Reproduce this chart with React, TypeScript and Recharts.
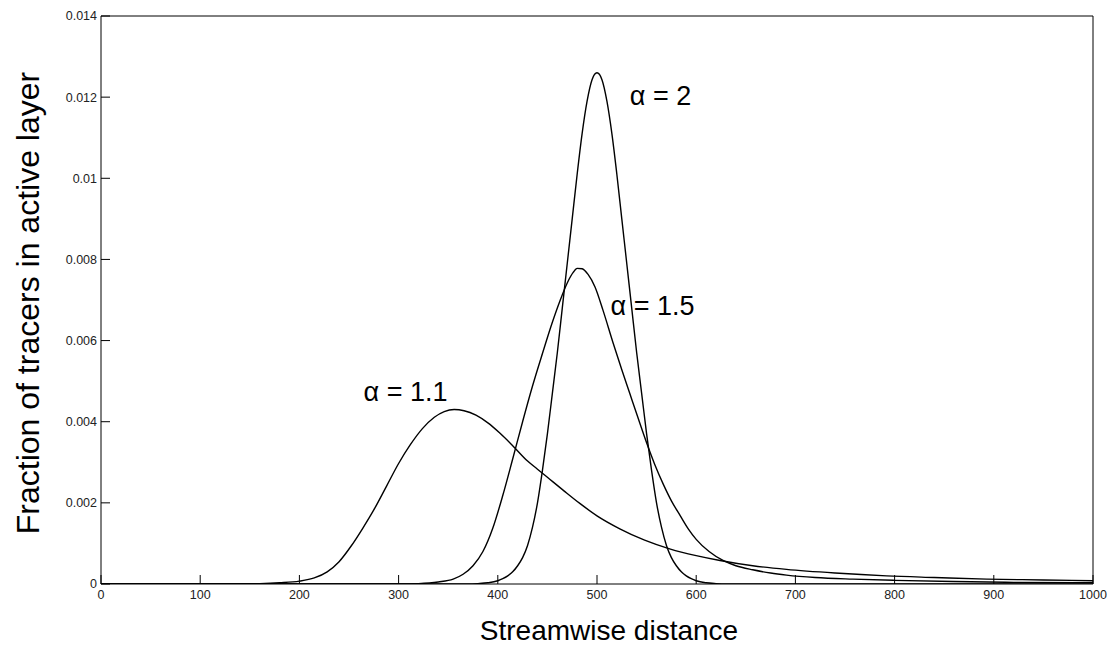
import React from 'react';
import { LineChart, Line, XAxis, YAxis, ReferenceDot, Label } from 'recharts';

const xTicks = [0, 100, 200, 300, 400, 500, 600, 700, 800, 900, 1000];
const yTicks = [0, 0.002, 0.004, 0.006, 0.008, 0.01, 0.012, 0.014];
const yTickLabels = ['0', '0.002', '0.004', '0.006', '0.008', '0.01', '0.012', '0.014'];

// alpha = 1.1
const a11X = [0, 100, 140, 160, 180, 200, 215, 228, 240, 252, 264, 276, 288, 300, 312, 324, 336, 346, 356, 366, 378, 390, 402, 415, 430, 440, 450, 467, 483, 500, 523, 548, 574, 600, 624, 657, 691, 740, 792, 840, 893, 950, 1000];
const a11Y = [0, 0, 0.000004, 0.00001, 0.00003, 0.00007, 0.00015, 0.0003, 0.00055, 0.00093, 0.00138, 0.00187, 0.00242, 0.00297, 0.00344, 0.00383, 0.00411, 0.00425, 0.0043, 0.00427, 0.00416, 0.00397, 0.00372, 0.00341, 0.00303, 0.00283, 0.00263, 0.00229, 0.00198, 0.00168, 0.00136, 0.00108, 0.00086, 0.0007, 0.00058, 0.00045, 0.00036, 0.00027, 0.0002, 0.00016, 0.00012, 0.0001, 0.00008];

// alpha = 1.5
const a15X = [0, 300, 320, 340, 355, 365, 375, 385, 395, 405, 415, 425, 435, 445, 455, 463, 470, 476, 480, 485, 491, 498, 506, 516, 525, 533, 541, 550, 558, 567, 575, 584, 592, 600, 613, 627, 640, 657, 675, 691, 720, 758, 800, 859, 920, 1000];
const a15Y = [0, 0, 0.00001, 0.00005, 0.00012, 0.00024, 0.00045, 0.0008, 0.00138, 0.00218, 0.00308, 0.004, 0.00488, 0.00568, 0.00645, 0.007, 0.00742, 0.00768, 0.00778, 0.00777, 0.00763, 0.00732, 0.00675, 0.00596, 0.00528, 0.0047, 0.00412, 0.00348, 0.00296, 0.00245, 0.00205, 0.00168, 0.00136, 0.0011, 0.0008, 0.00058, 0.00045, 0.00035, 0.00027, 0.00022, 0.00016, 0.00012, 0.00009, 0.00006, 0.00004, 0.00003];

// alpha = 2
const a2X = [0, 370, 380, 390, 400, 405, 410, 415, 420, 425, 430, 435, 440, 445, 450, 455, 460, 465, 470, 475, 480, 485, 490, 495, 500, 505, 510, 515, 520, 525, 530, 535, 540, 545, 550, 555, 560, 565, 570, 575, 580, 585, 590, 595, 600, 610, 620, 630, 1000];
const a2Y = [0, 0, 0.00001, 0.00003, 0.00008, 0.00013, 0.0002, 0.0003, 0.00045, 0.00065, 0.00095, 0.0014, 0.002, 0.0028, 0.0037, 0.0047, 0.0057, 0.0068, 0.0079, 0.009, 0.0101, 0.0111, 0.0119, 0.01243, 0.0126, 0.01243, 0.0119, 0.0111, 0.0101, 0.009, 0.0079, 0.0068, 0.0057, 0.0047, 0.0037, 0.0028, 0.002, 0.0014, 0.00095, 0.00065, 0.00045, 0.0003, 0.0002, 0.00013, 0.00008, 0.00003, 0.00001, 0, 0];

const toData = (xs: number[], ys: number[]) => xs.map((x, i) => ({ x, y: ys[i] }));
const a11 = toData(a11X, a11Y);
const a15 = toData(a15X, a15Y);
const a2 = toData(a2X, a2Y);

const FONT = '"Liberation Sans", Arial, Helvetica, sans-serif';

export default function App() {
  return (
    <div style={{ position: 'absolute', left: 0, top: 0, width: 1107, height: 646, background: '#fff', fontFamily: FONT }}>
      <LineChart width={1107} height={646} margin={{ top: 15, right: 13, bottom: 0, left: 0 }}>
        <XAxis
          xAxisId="bottom"
          dataKey="x"
          type="number"
          domain={[0, 1000]}
          ticks={xTicks}
          allowDataOverflow
          height={62}
          tickSize={-9}
          tickMargin={15}
          stroke="#000"
          tick={{ fill: '#222', fontSize: 12.5 }}
          interval={0}
        >
          <Label
            content={() => (
              <text x={609} y={640} textAnchor="middle" fontSize={28} fill="#000">Streamwise distance</text>
            )}
          />
        </XAxis>
        <XAxis
          xAxisId="top"
          orientation="top"
          dataKey="x"
          type="number"
          domain={[0, 1000]}
          ticks={xTicks}
          allowDataOverflow
          height={1}
          tickSize={-9}
          stroke="#000"
          tick={false}
          interval={0}
        />
        <YAxis
          yAxisId="left"
          type="number"
          domain={[0, 0.014]}
          ticks={yTicks}
          allowDataOverflow
          width={101}
          tickSize={-9}
          tickMargin={13}
          stroke="#000"
          tick={{ fill: '#222', fontSize: 12.5 }}
          tickFormatter={(v: number) => yTickLabels[yTicks.indexOf(v)] ?? String(v)}
          interval={0}
        >
          <Label
            content={() => (
              <text x={39} y={303} transform="rotate(-90 39 303)" textAnchor="middle" fontSize={32} fill="#000">Fraction of tracers in active layer</text>
            )}
          />
        </YAxis>
        <YAxis
          yAxisId="right"
          orientation="right"
          type="number"
          domain={[0, 0.014]}
          ticks={yTicks}
          allowDataOverflow
          width={1}
          tickSize={-9}
          stroke="#000"
          tick={false}
          interval={0}
        />
        <Line xAxisId="top" yAxisId="right" data={a11} dataKey="y" type="monotone" stroke="none" dot={false} isAnimationActive={false} legendType="none" />
        <Line xAxisId="bottom" yAxisId="left" data={a11} dataKey="y" type="monotone" stroke="#000" strokeWidth={1.4} dot={false} isAnimationActive={false} />
        <Line xAxisId="bottom" yAxisId="left" data={a15} dataKey="y" type="monotone" stroke="#000" strokeWidth={1.4} dot={false} isAnimationActive={false} />
        <Line xAxisId="bottom" yAxisId="left" data={a2} dataKey="y" type="monotone" stroke="#000" strokeWidth={1.4} dot={false} isAnimationActive={false} />
        <ReferenceDot xAxisId="bottom" yAxisId="left" x={564} y={0.01205} r={0} fill="none" stroke="none"
          label={{ value: 'α = 2', position: 'center', fontSize: 27, fill: '#000' }} />
        <ReferenceDot xAxisId="bottom" yAxisId="left" x={556} y={0.00686} r={0} fill="none" stroke="none"
          label={{ value: 'α = 1.5', position: 'center', fontSize: 27, fill: '#000' }} />
        <ReferenceDot xAxisId="bottom" yAxisId="left" x={307} y={0.00475} r={0} fill="none" stroke="none"
          label={{ value: 'α = 1.1', position: 'center', fontSize: 27, fill: '#000' }} />
      </LineChart>
    </div>
  );
}
